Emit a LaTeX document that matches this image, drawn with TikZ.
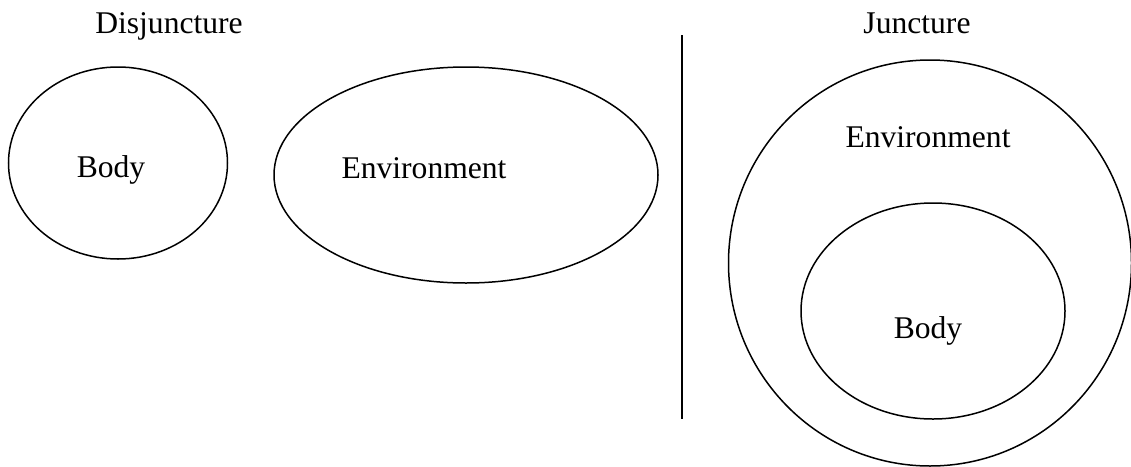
\documentclass[tikz,border=0pt]{standalone}
\usepackage{fontspec}
\setmainfont{Liberation Serif}
\usetikzlibrary{shapes.geometric}

\begin{document}
\begin{tikzpicture}[
    x=1pt, y=-1pt,
    oval/.style={draw,ellipse,line width=1.5pt,inner sep=0pt},
    lbl/.style={font=\fontsize{31.6}{38}\selectfont,anchor=base,inner sep=0pt},
    sep/.style={line width=1.5pt}
]
  \useasboundingbox (0,0) rectangle (1131,466);
  \clip (0,0) rectangle (1131,466);

  % Disjuncture side
  \node[lbl] (disj) at (169,33) {Disjuncture};
  \node[oval,minimum width=219pt,minimum height=192pt] (bodyL) at (118,163) {};
  \node[oval,minimum width=384pt,minimum height=216pt] (envL) at (466,175) {};
  \node[lbl] (bodyLtxt) at (111,177) {Body};
  \node[lbl] (envLtxt) at (424,178) {Environment};

  % Divider
  \coordinate (top) at (682,35);
  \coordinate (bot) at (682,419);
  \draw[sep] (top) -- (bot);

  % Juncture side
  \node[lbl] (junc) at (917,33) {Juncture};
  \node[oval,minimum width=403pt,minimum height=406pt] (envR) at (930,263) {};
  \node[oval,minimum width=264pt,minimum height=216pt] (bodyR) at (933,311) {};
  \node[lbl] (envRtxt) at (928,147) {Environment};
  \node[lbl] (bodyRtxt) at (928,338) {Body};

\end{tikzpicture}
\end{document}
